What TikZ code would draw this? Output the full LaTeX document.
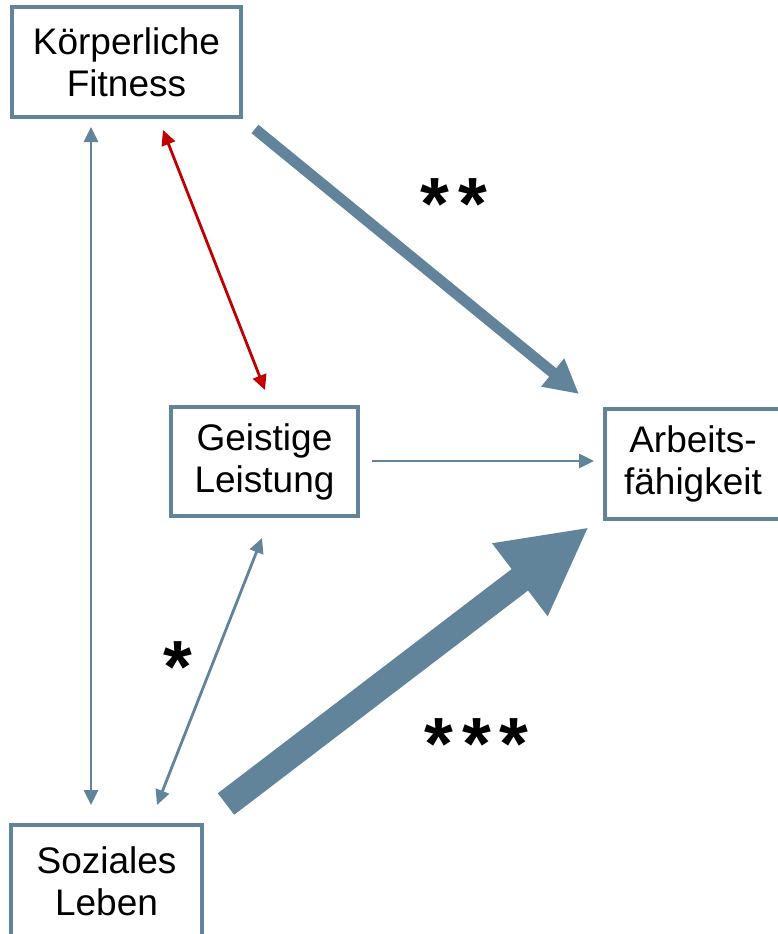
\documentclass[tikz,border=0pt]{standalone}
\usepackage{fontspec}
\setmainfont{Liberation Sans}
\usetikzlibrary{arrows.meta}
\definecolor{steel}{HTML}{62849B}
\definecolor{darkred}{HTML}{C00000}
\begin{document}
\begin{tikzpicture}[x=1pt,y=-1pt,
  box/.style={draw=steel, line width=4.5pt, fill=white, align=center, inner sep=0pt,
    font=\fontsize{37}{42}\selectfont},
  thin/.style={steel, line width=2.8pt, {Triangle[length=15pt,width=14pt]}-{Triangle[length=15pt,width=14pt]}},
  thinone/.style={steel, line width=2.8pt, -{Triangle[length=15pt,width=14pt]}},
  redarrow/.style={darkred, line width=2.8pt, {Triangle[length=15pt,width=14pt]}-{Triangle[length=15pt,width=14pt]}},
  thick/.style={steel, line width=11pt, -{Triangle[length=34pt,width=34pt]}},
  huge/.style={steel, line width=27pt, -{Triangle[length=87pt,width=85pt]}},
  star/.style={anchor=base, inner sep=0pt, font=\fontsize{74}{74}\bfseries\selectfont}
]
\useasboundingbox (0,0) rectangle (778,934);
\fill[white] (0,0) rectangle (778,934);

\node[box, minimum width=229pt, minimum height=110pt] (kf) at (126.5,62) {Körperliche\\Fitness};
\node[box, minimum width=187pt, minimum height=109pt] (gl) at (264.5,461.5) {Geistige\\Leistung};
\node[box, minimum width=176pt, minimum height=110pt] (ar) at (693,464) {Arbeits-\\fähigkeit};
\node[box, minimum width=191pt, minimum height=112pt] (sl) at (106.5,881) {Soziales\\Leben};

\coordinate (kf1) at (255,129);
\coordinate (ar1) at (579,394);
\coordinate (gl2) at (372,461);
\coordinate (ar2) at (594,461);
\coordinate (sl3) at (226,804);
\coordinate (ar3) at (589,527);
\coordinate (kf4) at (91,127);
\coordinate (sl4) at (91,805);
\coordinate (kf5) at (163,130);
\coordinate (gl5) at (265,390);
\coordinate (gl6) at (262,538);
\coordinate (sl6) at (157,805);

\draw[thick] (kf1) -- (ar1);
\draw[thinone] (gl2) -- (ar2);
\draw[huge] (sl3) -- (ar3);
\draw[thin] (kf4) -- (sl4);
\draw[redarrow] (kf5) -- (gl5);
\draw[thin] (gl6) -- (sl6);

\node[star] (s2) at (454,229) {*\hspace{9pt}*};
\node[star] (s3) at (476.5,769) {*\hspace{9pt}*\hspace{9pt}*};
\node[star] (s1) at (178,692) {*};
\end{tikzpicture}
\end{document}
